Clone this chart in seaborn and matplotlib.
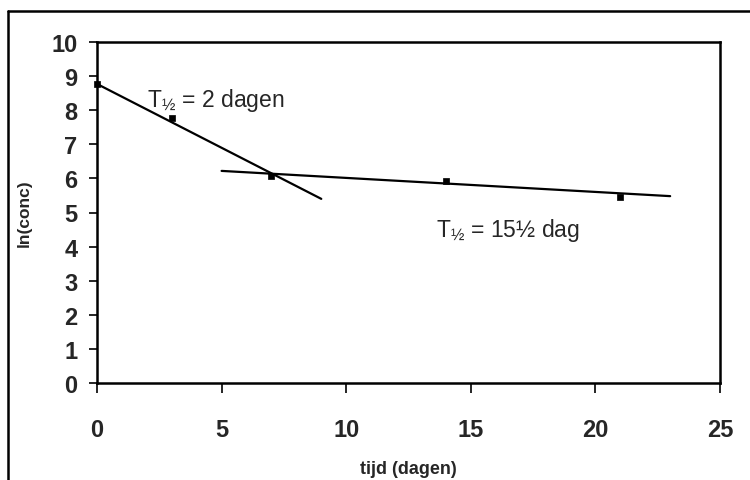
import matplotlib
matplotlib.use("Agg")
import matplotlib.pyplot as plt
import seaborn as sns
import pandas as pd
from matplotlib.lines import Line2D

# data
days = [0, 3, 7, 14, 21]
ln_conc = [8.77, 7.77, 6.07, 5.92, 5.45]
fast_x = [0, 9]
fast_y = [8.77, 5.40]
slow_x = [5, 23]
slow_y = [6.22, 5.48]
x_ticks = [0, 5, 10, 15, 20, 25]
y_ticks = list(range(0, 11))
label_fast = "T$_{½}$ = 2 dagen"
label_slow = "T$_{½}$ = 15½ dag"

sns.set_style("ticks")
plt.rcParams['font.family'] = ['Liberation Sans', 'DejaVu Sans']
plt.rcParams['mathtext.fontset'] = 'custom'
plt.rcParams['mathtext.rm'] = 'Liberation Sans'
plt.rcParams['mathtext.it'] = 'Liberation Sans'

fig = plt.figure(figsize=(7.5, 4.81), dpi=100)
ax = fig.add_axes([97/750, 1-384/481, (720-97)/750, (384-43)/481])

pts = pd.DataFrame({"tijd": days, "ln": ln_conc})
fast = pd.DataFrame({"tijd": fast_x, "ln": fast_y})
slow = pd.DataFrame({"tijd": slow_x, "ln": slow_y})

sns.lineplot(data=fast, x="tijd", y="ln", color="black", linewidth=1.6, ax=ax)
sns.lineplot(data=slow, x="tijd", y="ln", color="black", linewidth=1.6, ax=ax)
sns.scatterplot(data=pts, x="tijd", y="ln", color="black", marker="s", s=24,
                edgecolor="black", linewidth=0.5, ax=ax, zorder=5, clip_on=False)

ax.set_xlim(0, 25)
ax.set_ylim(0, 10)
ax.set_xticks(x_ticks)
ax.set_yticks(y_ticks)
ax.set_xticklabels([str(t) for t in x_ticks], fontsize=17, fontweight="bold")
ax.set_yticklabels([str(t) for t in y_ticks], fontsize=17, fontweight="bold")
ax.tick_params(axis="x", direction="out", length=7, width=1.4, pad=18)
ax.tick_params(axis="y", direction="out", length=6, width=1.4, pad=8)
for sp in ax.spines.values():
    sp.set_visible(True)
    sp.set_linewidth(1.8)
    sp.set_color("black")

ax.set_xlabel("tijd (dagen)", fontsize=13, fontweight="bold", labelpad=14)
ax.set_ylabel("ln(conc)", fontsize=12.5, fontweight="bold", labelpad=14)

ax.text(2.0, 8.3, label_fast, fontsize=16.5, ha="left", va="center")
ax.text(13.6, 4.5, label_slow, fontsize=16.5, ha="left", va="center")

# outer frame lines of the scanned chart
fig.add_artist(Line2D([8/750, 8/750], [0, 1-12/481], transform=fig.transFigure,
                      color="black", linewidth=1.8))
fig.add_artist(Line2D([8/750, 1], [1-12/481, 1-12/481], transform=fig.transFigure,
                      color="black", linewidth=1.8))

fig.savefig("out.png", dpi=100)
